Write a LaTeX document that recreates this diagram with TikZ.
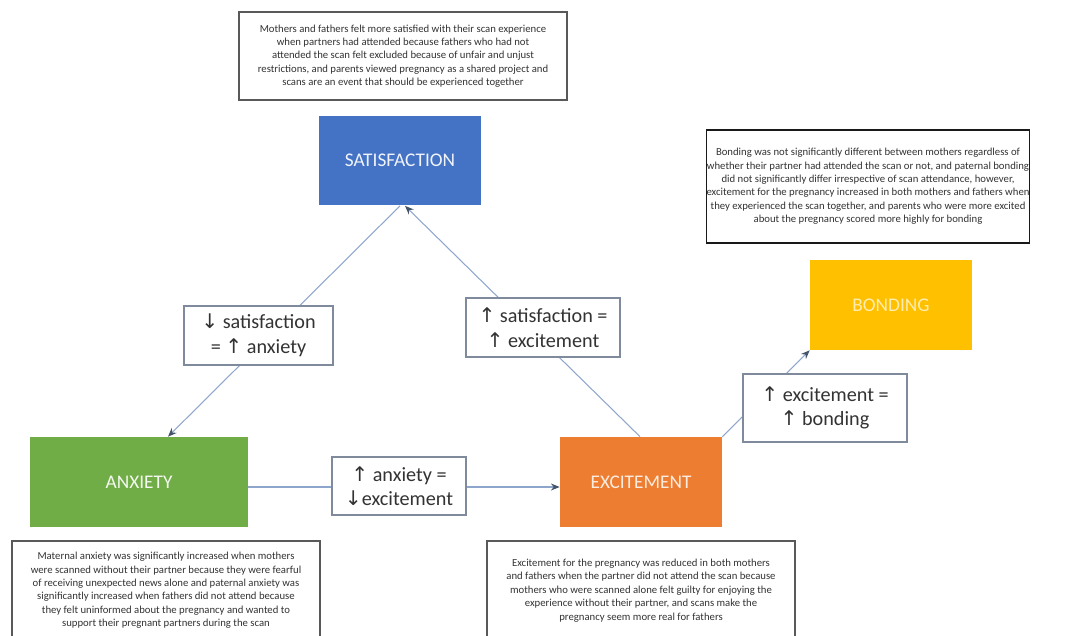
\documentclass[tikz,border=0pt]{standalone}
\usepackage{fontspec}
\setmainfont{Carlito}
\newfontfamily\arrfont{DejaVu Sans}
\usetikzlibrary{arrows.meta}
\newcommand{\myup}{{\arrfont\char"2191}}
\newcommand{\mydn}{{\arrfont\char"2193}}
\definecolor{cblue}{HTML}{4472C4}
\definecolor{cgreen}{HTML}{70AD47}
\definecolor{corange}{HTML}{ED7D31}
\definecolor{cyellow}{HTML}{FFC000}
\definecolor{cline}{HTML}{8FA6CC}
\definecolor{ctip}{HTML}{44546A}
\definecolor{clab}{HTML}{7F8A9C}
\begin{document}
\begin{tikzpicture}[x=0.02cm,y=-0.02cm,
  themebox/.style={minimum width=3.24cm,minimum height=1.8cm,inner sep=0pt,
     font=\fontsize{11}{13}\selectfont},
  textbox/.style={draw=black!65,line width=0.9pt,fill=white,inner sep=0pt,
     align=center,font=\fontsize{6.1}{7.6}\selectfont,text=black!80},
  labelbox/.style={draw=clab,line width=0.7pt,fill=white,inner sep=0pt,
     align=center,font=\fontsize{11.5}{14}\selectfont,text=black!80},
  conn/.style={draw=cline,line width=0.6pt,-{Stealth[length=5pt,width=4pt,color=ctip]}}
]
\useasboundingbox (0,0) rectangle (1067,635);

% theme boxes
\node[themebox,fill=cblue,text=white!92!cblue] (sat) at (400,160.5) {SATISFACTION};
\node[themebox,fill=cgreen,text=white!92!cgreen,minimum width=4.36cm] (anx) at (139,482) {ANXIETY};
\node[themebox,fill=corange,text=white!85!corange] (exc) at (641,482) {EXCITEMENT};
\node[themebox,fill=cyellow,text=white!70!cyellow] (bond) at (891,305) {BONDING};

% connectors
\draw[conn] (sat.south) -- ([xshift=0.58cm]anx.north);
\draw[conn] ([yshift=-0.1cm]anx.east) -- ([yshift=-0.1cm]exc.west);
\draw[conn] ([xshift=-0.02cm]exc.north) -- ([xshift=0.1cm]sat.south);
\draw[conn] (exc.north east) -- (bond.south west);

% label boxes
\node[labelbox,minimum width=2.98cm,minimum height=1.18cm] (lsa) at (258.5,335.5)
  {\mydn{} satisfaction\\= \myup{} anxiety};
\node[labelbox,minimum width=3.08cm,minimum height=1.18cm] (lse) at (543,327.5)
  {\myup{} satisfaction =\\\myup{} excitement};
\node[labelbox,minimum width=2.68cm,minimum height=1.16cm] (lae) at (399,486)
  {\myup{} anxiety =\\\mydn excitement};
\node[labelbox,minimum width=3.28cm,minimum height=1.36cm] (leb) at (825,408)
  {\myup{} excitement =\\\myup{} bonding};

% text boxes
\node[textbox,minimum width=6.56cm,minimum height=1.76cm] (tsat) at (403,56)
  {Mothers and fathers felt more satisfied with their scan experience\\
   when partners had attended because fathers who had not\\
   attended the scan felt excluded because of unfair and unjust\\
   restrictions, and parents viewed pregnancy as a shared project and\\
   scans are an event that should be experienced together};
\node[textbox,draw=black!90,line width=1.1pt,minimum width=6.4cm,minimum height=2.26cm] (tbond) at (868,186.5)
  {Bonding was not significantly different between mothers regardless of\\
   whether their partner had attended the scan or not, and paternal bonding\\
   did not significantly differ irrespective of scan attendance, however,\\
   excitement for the pregnancy increased in both mothers and fathers when\\
   they experienced the scan together, and parents who were more excited\\
   about the pregnancy scored more highly for bonding};
\node[textbox,minimum width=6.16cm,minimum height=1.98cm] (tanx) at (166,590.5)
  {Maternal anxiety was significantly increased when mothers\\
   were scanned without their partner because they were fearful\\
   of receiving unexpected news alone and paternal anxiety was\\
   significantly increased when fathers did not attend because\\
   they felt uninformed about the pregnancy and wanted to\\
   support their pregnant partners during the scan};
\node[textbox,minimum width=6.16cm,minimum height=1.98cm] (texc) at (641,590.5)
  {Excitement for the pregnancy was reduced in both mothers\\
   and fathers when the partner did not attend the scan because\\
   mothers who were scanned alone felt guilty for enjoying the\\
   experience without their partner, and scans make the\\
   pregnancy seem more real for fathers};
\end{tikzpicture}
\end{document}
